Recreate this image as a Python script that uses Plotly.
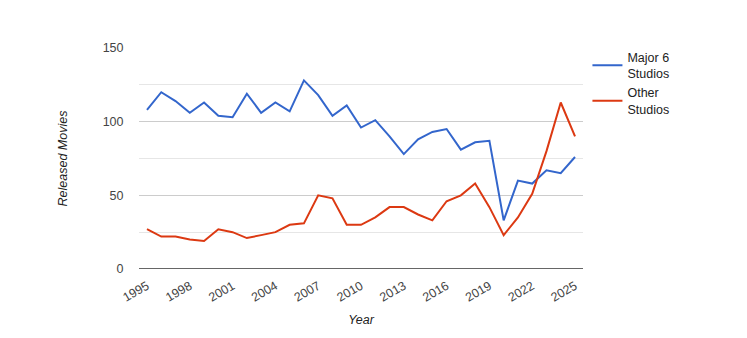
import plotly.graph_objects as go

years = list(range(1995, 2026))
major6 = [108, 120, 114, 106, 113, 104, 103, 119, 106, 113, 107, 128, 118, 104, 111,
          96, 101, 90, 78, 88, 93, 95, 81, 86, 87, 33, 60, 58, 67, 65, 76]
others = [27, 22, 22, 20, 19, 27, 25, 21, 23, 25, 30, 31, 50, 48, 30,
          30, 35, 42, 42, 37, 33, 46, 50, 58, 42, 23, 35, 51, 80, 113, 90]
x_ticks = list(range(1995, 2026, 3))
y_ticks = [0, 50, 100, 150]

FONT = "Arial, Liberation Sans, sans-serif"

fig = go.Figure()
fig.add_trace(go.Scatter(x=years, y=major6, mode="lines", name="Major 6<br>Studios",
                         line=dict(color="#3366CC", width=2)))
fig.add_trace(go.Scatter(x=years, y=others, mode="lines", name="Other<br>Studios",
                         line=dict(color="#DC3912", width=2)))

fig.update_layout(
    width=747, height=338,
    margin=dict(l=139, r=164, t=48, b=69),
    paper_bgcolor="white", plot_bgcolor="white",
    font=dict(family=FONT, size=12.5, color="#444"),
    showlegend=True,
    legend=dict(x=1.01, y=1.025, xanchor="left", yanchor="top",
                font=dict(family=FONT, size=12.5, color="#222"),
                bgcolor="rgba(0,0,0,0)", tracegroupgap=6),
    xaxis=dict(range=[1994.44, 2025.56], tickmode="array", tickvals=x_ticks,
               ticktext=[str(t) for t in x_ticks], tickangle=-30, automargin=False,
               showgrid=False, zeroline=False, showline=False,
               ticks="outside", ticklen=4, tickcolor="rgba(0,0,0,0)",
               tickfont=dict(color="#444", size=12.5),
               title=dict(text="<i>Year</i>", font=dict(color="#222", size=12.5), standoff=11)),
    yaxis=dict(range=[0, 150], tickmode="array", tickvals=y_ticks, automargin=False,
               showgrid=True, gridcolor="#cccccc", gridwidth=1,
               minor=dict(tickmode="array", tickvals=[25, 75, 125], showgrid=True,
                          gridcolor="#e6e6e6", gridwidth=1),
               zeroline=False, showline=False,
               ticks="outside", ticklen=12, tickcolor="rgba(0,0,0,0)",
               tickfont=dict(color="#444", size=12.5),
               title=dict(text="<i>Released Movies</i>", font=dict(color="#222", size=12.5), standoff=32)),
    shapes=[dict(type="line", xref="paper", yref="y", x0=0, x1=1, y0=0, y1=0,
                 line=dict(color="#333333", width=1.3), layer="above")],
)

fig.write_html("out.html")
